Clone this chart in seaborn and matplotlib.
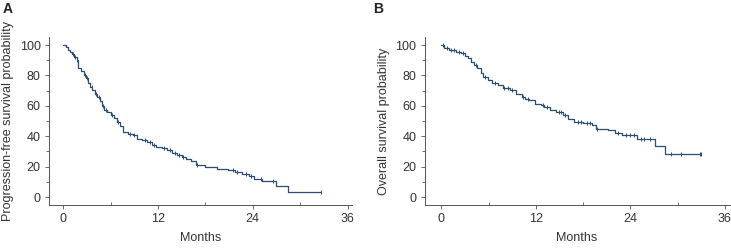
import numpy as np
import pandas as pd
import matplotlib
matplotlib.use("Agg")
import matplotlib.pyplot as plt
import seaborn as sns
from matplotlib.ticker import MultipleLocator

# ---- data ----
pfs_times = [0, 0.3, 0.6, 0.9, 1.1, 1.4, 1.7, 1.9, 2.2, 2.6, 2.9, 3.1, 3.4, 3.7, 4.0, 4.3,
             4.6, 4.9, 5.2, 5.6, 6.0, 6.4, 6.8, 7.2, 7.6, 8.2, 8.8, 9.4, 10.0, 10.6, 11.2,
             11.8, 12.5, 13.2, 13.8, 14.4, 15.0, 15.6, 16.2, 16.8, 18.0, 19.5, 20.8, 21.8,
             22.6, 23.5, 24.2, 25.2, 26.9, 28.4, 32.6]
pfs_surv = [100, 99, 97, 95.5, 94, 92, 90, 85, 83, 80.5, 78, 75, 72.5, 70.5, 68, 65.5,
            63, 60, 57.5, 56, 54, 52, 49.5, 47, 43, 41.5, 40.5, 38.5, 37.5, 36, 34.5,
            33, 32, 31, 29, 27.5, 26.5, 25, 24, 21, 20, 18.7, 17.5, 16.5,
            15, 14, 12, 10.5, 7, 3.3, 3.3]
pfs_censor = [1.2, 1.5, 1.8, 2.8, 3.0, 3.6, 4.1, 4.5, 5.0, 5.4, 6.2, 7.0, 8.5, 9.0,
              10.3, 11.0, 11.5, 12.8, 13.5, 14.1, 14.7, 15.2, 17.0, 21.5, 22.0, 23.2,
              23.8, 25.0, 26.5, 32.6]

os_times = [0, 0.4, 1.0, 1.9, 2.5, 3.0, 3.4, 3.8, 4.2, 4.6, 5.1, 5.3, 5.9, 6.4, 7.2,
            7.8, 8.7, 9.5, 10.2, 10.6, 11.2, 11.9, 12.7, 13.1, 13.8, 14.6, 15.5, 16.1,
            16.9, 18.0, 19.1, 19.7, 21.2, 22.0, 22.9, 24.8, 27.1, 28.4, 33.0]
os_surv = [100, 97.8, 96.7, 95.6, 94.5, 93, 91.5, 89, 86.8, 84.6, 81.3, 79.1, 76.9, 74.7,
           73.6, 71.4, 70.3, 68.1, 65.9, 64.8, 63.7, 61.5, 60.4, 59.3, 57.1, 56, 53.8,
           51.6, 49.5, 48.4, 47.3, 45, 44, 41.8, 40.7, 38.5, 33.6, 28.1, 28.1]
os_censor = [0.2, 0.7, 1.3, 1.6, 2.2, 2.8, 4.4, 5.6, 6.8, 8.0, 8.5, 9.0, 10.4, 11.0,
             12.9, 13.4, 14.9, 15.2, 15.7, 17.3, 17.7, 18.5, 18.9, 19.8, 22.5, 23.5,
             24.0, 24.5, 25.3, 25.8, 26.5, 29.2, 30.5, 32.8, 33.0]

months_ticks = [0, 12, 24, 36]
prob_ticks = [0, 20, 40, 60, 80, 100]
panel_labels = ["A", "B"]
ylabels = ["Progression-free survival probability", "Overall survival probability"]

sns.set_style("ticks")
plt.rcParams["font.family"] = ["Liberation Sans", "DejaVu Sans"]

LINE = "#2c4d72"
TXT = "#333333"
SPINE = "#555555"
FS = 9

fig = plt.figure(figsize=(7.31, 2.48), dpi=100)
ax_a = fig.add_axes([0.067, 0.173, 0.415, 0.678])
ax_b = fig.add_axes([0.581, 0.173, 0.417, 0.678])


def surv_at(times, surv, t):
    idx = np.searchsorted(np.asarray(times), t, side="right") - 1
    return np.asarray(surv)[idx]


for ax, times, surv, cens, ylab, xl in [
    (ax_a, pfs_times, pfs_surv, pfs_censor, ylabels[0], (-1.8, 36.6)),
    (ax_b, os_times, os_surv, os_censor, ylabels[1], (-2.1, 36.6)),
]:
    df = pd.DataFrame({"Months": times, "Survival": surv})
    sns.lineplot(data=df, x="Months", y="Survival", ax=ax, color=LINE, lw=0.9,
                 drawstyle="steps-post", estimator=None, sort=False)
    cdf = pd.DataFrame({"Months": cens, "Survival": surv_at(times, surv, cens)})
    sns.scatterplot(data=cdf, x="Months", y="Survival", ax=ax, marker="|", s=10,
                    color=LINE, linewidth=0.7, zorder=3)
    ax.set_xlim(*xl)
    ax.set_ylim(-5.3, 105.3)
    ax.set_xticks(months_ticks)
    ax.set_yticks(prob_ticks)
    ax.xaxis.set_minor_locator(MultipleLocator(6))
    ax.yaxis.set_minor_locator(MultipleLocator(10))
    ax.tick_params(axis="both", which="major", labelsize=FS, colors=SPINE,
                   labelcolor=TXT, length=3, width=0.6, pad=3)
    ax.tick_params(axis="y", which="minor", length=2, width=0.6, colors=SPINE)
    ax.tick_params(axis="x", which="minor", direction="in", length=2, width=0.6,
                   colors=SPINE)
    ax.set_xlabel("Months", fontsize=FS, color=TXT, labelpad=5)
    ax.set_ylabel(ylab, fontsize=FS, color=TXT, labelpad=4)
    for s in ["top", "right"]:
        ax.spines[s].set_visible(False)
    for s in ["left", "bottom"]:
        ax.spines[s].set_color(SPINE)
        ax.spines[s].set_linewidth(0.7)

fig.text(0.004, 0.99, panel_labels[0], fontsize=10, fontweight="bold", va="top",
         ha="left", color="#222222")
fig.text(0.511, 0.99, panel_labels[1], fontsize=10, fontweight="bold", va="top",
         ha="left", color="#222222")

fig.savefig("out.png", dpi=100)
